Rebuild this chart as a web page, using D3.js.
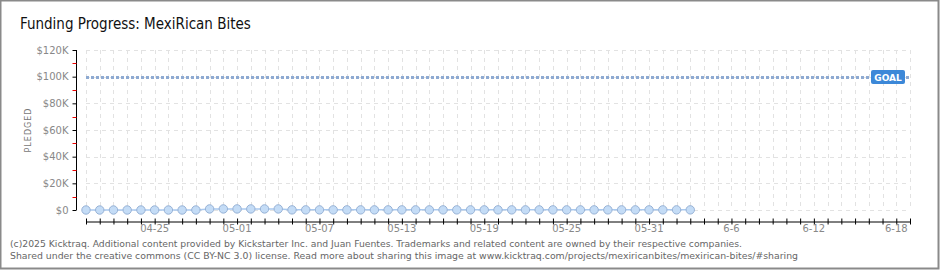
<!DOCTYPE html>
<html>
<head>
<meta charset="utf-8">
<script src="https://cdn.jsdelivr.net/npm/d3@7"></script>
<style>
  body { margin: 0; background: #fff; }
  svg { display: block; }
</style>
</head>
<body>
<div id="chart"></div>
<script>
// data
var startDate = "2025-04-20"
var endDate = "2025-06-19"
var pledged = [0, 0, 0, 0, 0, 0, 0, 0, 0, 800, 800, 800, 800, 800, 800, 100, 100, 100, 100, 100,
  100, 100, 100, 100, 100, 100, 100, 100, 100, 100, 100, 100, 100, 100, 100, 100, 100, 100, 100, 100,
  100, 100, 100, 100, 100]
var goal = 100000
var yTicks = [0, 20000, 40000, 60000, 80000, 100000, 120000]
var yLabels = ["$0", "$20K", "$40K", "$60K", "$80K", "$100K", "$120K"]
var xTickDates = ["2025-04-25", "2025-05-01", "2025-05-07", "2025-05-13", "2025-05-19", "2025-05-25", "2025-05-31", "2025-06-06", "2025-06-12", "2025-06-18"]
var xLabels = ["04-25", "05-01", "05-07", "05-13", "05-19", "05-25", "05-31", "6-6", "6-12", "6-18"]

var width = 940
var height = 270
var parse = d3.utcParse("%Y-%m-%d")

var x = d3.scaleUtc()
  .domain([parse(startDate), parse(endDate)])
  .range([86, 910])
var y = d3.scaleLinear()
  .domain([0, 120000])
  .range([210, 50])

var days = d3.utcDay.range(parse(startDate), d3.utcDay.offset(parse(endDate), 1))
var points = pledged.map(function (v, i) { return { date: days[i], value: v } })

var svg = d3.select("#chart")
  .append("svg")
  .attr("width", width)
  .attr("height", height)

// outer frame
svg.append("rect")
  .attr("x", 0.5).attr("y", 0.5)
  .attr("width", width - 2).attr("height", height - 2)
  .attr("fill", "#fff")
  .attr("stroke", "#8a8a8a")
  .attr("stroke-width", 2)

svg.append("text")
  .attr("x", 20).attr("y", 29)
  .attr("font-family", "DejaVu Sans Condensed")
  .attr("font-size", 15)
  .attr("fill", "#111")
  .text("Funding Progress: MexiRican Bites")

// grid
var grid = svg.append("g")
grid.selectAll(".vg")
  .data(days)
  .enter()
  .append("line")
  .attr("x1", function (d) { return Math.round(x(d)) + 0.5 })
  .attr("x2", function (d) { return Math.round(x(d)) + 0.5 })
  .attr("y1", y(120000)).attr("y2", y(0))
  .attr("stroke", "#e2e2e2")
  .attr("stroke-dasharray", "4,4")
grid.selectAll(".hg")
  .data(yTicks)
  .enter()
  .append("line")
  .attr("x1", x(parse(startDate))).attr("x2", x(parse(endDate)))
  .attr("y1", function (d) { return Math.round(y(d)) + 0.5 })
  .attr("y2", function (d) { return Math.round(y(d)) + 0.5 })
  .attr("stroke", "#e2e2e2")
  .attr("stroke-dasharray", "4,4")

// y axis
var yAxis = svg.append("g")
  .attr("transform", "translate(76.5,0)")
  .call(d3.axisLeft(y).tickValues(yTicks).tickSize(4).tickFormat(function (d, i) { return yLabels[i] }))
yAxis.select(".domain").attr("stroke", "#000").attr("d", "M0," + y(120000) + "V" + y(0))
yAxis.selectAll(".tick line").attr("stroke", "#000")
yAxis.selectAll(".tick text")
  .attr("fill", "#888")
  .attr("font-family", "DejaVu Sans")
  .attr("font-size", 10)
  .attr("x", -8)
// red minor ticks
yAxis.selectAll(".minor")
  .data(d3.range(10000, 120000, 20000))
  .enter()
  .append("line")
  .attr("x1", -4).attr("x2", 0)
  .attr("y1", function (d) { return Math.round(y(d)) + 0.5 })
  .attr("y2", function (d) { return Math.round(y(d)) + 0.5 })
  .attr("stroke", "#e00")

svg.append("text")
  .attr("transform", "translate(31,130) rotate(-90)")
  .attr("text-anchor", "middle")
  .attr("font-family", "DejaVu Sans")
  .attr("font-size", 8)
  .attr("letter-spacing", 1)
  .attr("fill", "#777")
  .text("PLEDGED")

// x axis
var xAxis = svg.append("g")
  .attr("transform", "translate(0,221.5)")
  .call(d3.axisBottom(x).tickValues(days).tickSizeInner(3).tickSizeOuter(0).tickFormat(""))
xAxis.select(".domain").attr("stroke", "#000")
xAxis.selectAll(".tick line").attr("y1", -3).attr("y2", 3).attr("stroke", "#000")

svg.append("g").selectAll("text")
  .data(xTickDates)
  .enter()
  .append("text")
  .attr("x", function (d) { return x(parse(d)) })
  .attr("y", 232)
  .attr("text-anchor", "middle")
  .attr("font-family", "DejaVu Sans")
  .attr("font-size", 10)
  .attr("fill", "#888")
  .text(function (d, i) { return xLabels[i] })

// goal line
svg.append("line")
  .attr("x1", x(parse(startDate))).attr("x2", x(parse(endDate)))
  .attr("y1", Math.round(y(goal)) + 0.5).attr("y2", Math.round(y(goal)) + 0.5)
  .attr("stroke", "#8eaad2")
  .attr("stroke-width", 3)
  .attr("stroke-dasharray", "3,2")

var gx = 871, gy = Math.round(y(goal)) - 7
svg.append("rect")
  .attr("x", gx).attr("y", gy)
  .attr("width", 34).attr("height", 14)
  .attr("rx", 2)
  .attr("fill", "#3c88d8")
svg.append("text")
  .attr("x", gx + 17).attr("y", gy + 10.5)
  .attr("text-anchor", "middle")
  .attr("font-family", "DejaVu Sans")
  .attr("font-size", 9)
  .attr("font-weight", "bold")
  .attr("fill", "#fff")
  .text("GOAL")

// pledged line + points
svg.append("path")
  .datum(points)
  .attr("fill", "none")
  .attr("stroke", "#a9c9ef")
  .attr("stroke-width", 1.5)
  .attr("d", d3.line().x(function (d) { return x(d.date) }).y(function (d) { return y(d.value) }))

svg.selectAll(".pt")
  .data(points)
  .enter()
  .append("circle")
  .attr("cx", function (d) { return x(d.date) })
  .attr("cy", function (d) { return y(d.value) })
  .attr("r", 4.2)
  .attr("fill", "#c4dcf6")
  .attr("stroke", "#97b2d6")
  .attr("stroke-width", 1)

// footer
var foot = ["(c)2025 Kicktraq. Additional content provided by Kickstarter Inc. and Juan Fuentes. Trademarks and related content are owned by their respective companies.",
  "Shared under the creative commons (CC BY-NC 3.0) license. Read more about sharing this image at www.kicktraq.com/projects/mexiricanbites/mexirican-bites/#sharing"]
var footLen = [732, 788]
svg.selectAll(".foot")
  .data(foot)
  .enter()
  .append("text")
  .attr("x", 10)
  .attr("y", function (d, i) { return 247 + i * 12 })
  .attr("font-family", "DejaVu Sans")
  .attr("font-size", 9.5)
  .attr("fill", "#666")
  .attr("textLength", function (d, i) { return footLen[i] })
  .attr("lengthAdjust", "spacingAndGlyphs")
  .text(function (d) { return d })
</script>
</body>
</html>
